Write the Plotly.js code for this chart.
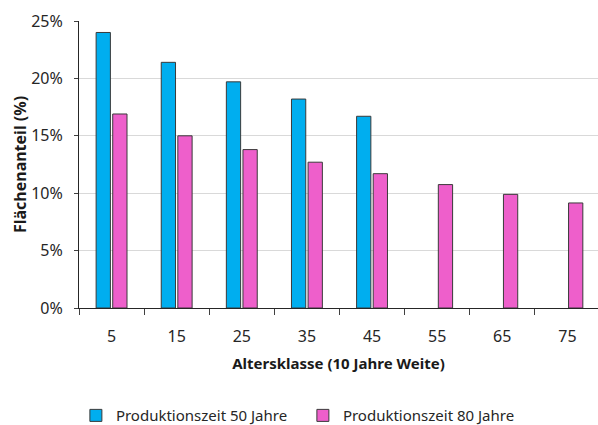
<!DOCTYPE html>
<html>
<head>
<meta charset="utf-8">
<script src="https://cdn.plot.ly/plotly-3.0.1.min.js"></script>
<style>
  html, body { margin: 0; padding: 0; background: #fff; }
  #chart { width: 598px; height: 425px; }
</style>
</head>
<body>
<div id="chart"></div>
<script>
// Altersklassen (Klassenmitte, 10 Jahre Weite)
const altersklassen = ['5', '15', '25', '35', '45', '55', '65', '75'];
// Flächenanteil in % je Altersklasse
const prod50 = [24.0, 21.4, 19.7, 18.2, 16.7, null, null, null];
const prod80 = [16.9, 15.0, 13.8, 12.7, 11.7, 10.75, 9.9, 9.15];
const yTicks = [0, 5, 10, 15, 20, 25];
const yTickLabels = ['0%', '5%', '10%', '15%', '20%', '25%'];

const FONT = 'Noto Sans, Open Sans, sans-serif';

const traces = [
  {
    type: 'bar',
    name: 'Produktionszeit 50 Jahre',
    x: altersklassen,
    y: prod50,
    marker: { color: '#00AEEF', line: { color: '#3a3a3a', width: 1 } },
    hoverinfo: 'skip'
  },
  {
    type: 'bar',
    name: 'Produktionszeit 80 Jahre',
    x: altersklassen,
    y: prod80,
    marker: { color: '#EE5FCB', line: { color: '#3a3a3a', width: 1 } },
    hoverinfo: 'skip'
  }
];

const layout = {
  width: 598,
  height: 425,
  paper_bgcolor: '#ffffff',
  plot_bgcolor: '#ffffff',
  margin: { l: 79, r: 0, t: 21, b: 117, autoexpand: false },
  barmode: 'group',
  bargap: 0.49,
  bargroupgap: 0.14,
  font: { family: FONT, color: '#262626', size: 15 },
  showlegend: true,
  legend: {
    orientation: 'h',
    x: -0.006, xanchor: 'left',
    y: -0.375, yanchor: 'middle',
    font: { family: FONT, size: 15, color: '#262626' },
    entrywidth: 182,
    itemwidth: 30,
    traceorder: 'normal'
  },
  xaxis: {
    type: 'category',
    automargin: false,
    range: [-0.5, 7.47],
    tickson: 'boundaries',
    ticks: 'outside',
    ticklen: 6,
    tickcolor: '#404040',
    ticklabelstandoff: 14,
    showline: true,
    linecolor: '#262626',
    linewidth: 1,
    showgrid: false,
    tickfont: { family: FONT, size: 16, color: '#262626' },
    title: {
      text: '<b>Altersklasse (10 Jahre Weite)</b>',
      font: { family: FONT, size: 15, color: '#1a1a1a' },
      standoff: 12
    },
    fixedrange: true
  },
  yaxis: {
    automargin: false,
    range: [0, 25],
    tickmode: 'array',
    tickvals: yTicks,
    ticktext: yTickLabels,
    ticks: 'outside',
    ticklen: 4,
    tickcolor: '#404040',
    ticklabelstandoff: 8,
    showline: true,
    linecolor: '#262626',
    linewidth: 1,
    showgrid: true,
    gridcolor: '#d9d9d9',
    gridwidth: 1,
    zeroline: false,
    tickfont: { family: FONT, size: 16, color: '#262626' },
    title: {
      text: '<b>Flächenanteil (%)</b>',
      font: { family: FONT, size: 16, color: '#1a1a1a' },
      standoff: 0
    },
    fixedrange: true
  }
};

Plotly.newPlot('chart', traces, layout, { displayModeBar: false, staticPlot: true });
</script>
</body>
</html>
